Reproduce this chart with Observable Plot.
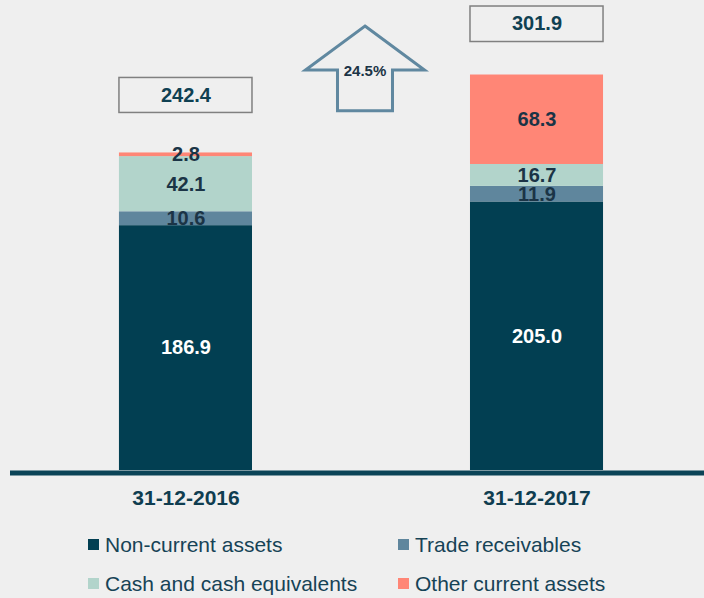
<!DOCTYPE html>
<html>
<head>
<meta charset="utf-8">
<script src="https://cdn.jsdelivr.net/npm/d3@7"></script>
<script src="https://cdn.jsdelivr.net/npm/@observablehq/plot@0.6"></script>
<style>
  html, body { margin: 0; padding: 0; background: #efefef; }
  body { width: 704px; height: 598px; overflow: hidden; font-family: "Liberation Sans", Arial, sans-serif; }
  #legend { display: grid; grid-template-columns: 310px auto; padding-left: 88px; }
  .item { display: flex; align-items: center; height: 39px; font-size: 21px; color: #164356; white-space: nowrap; }
  .sw { width: 11px; height: 11px; margin-right: 6px; flex: none; }
</style>
</head>
<body>
<div id="chart"></div>
<div id="legend"></div>
<script>
// ---- data ----
const years = ["31-12-2016", "31-12-2017"];
const series = ["Non-current assets", "Trade receivables", "Cash and cash equivalents", "Other current assets"];
const nonCurrent = [186.9, 205.0];
const tradeReceivables = [10.6, 11.9];
const cashEquivalents = [42.1, 16.7];
const otherCurrent = [2.8, 68.3];
const totals = [242.4, 301.9];
const growthLabel = ["24.5%"];

// ---- styles ----
const colors = ["#023f52", "#5f869d", "#b2d4cb", "#ff8676"];
const bg = "#efefef";
const darkText = "#1b3446";
const boxStyle = [
  {insetTop: -75, insetBottom: 40, dy: -57.5},
  {insetTop: -68.5, insetBottom: 33, dy: -51}
];

const valuesBySeries = [nonCurrent, tradeReceivables, cashEquivalents, otherCurrent];
const data = [];
years.forEach((yr, i) => series.forEach((s, j) => data.push({year: yr, series: s, value: valuesBySeries[j][i]})));
const totalData = years.map((yr, i) => ({year: yr, total: totals[i]}));

const boxMarks = [];
totalData.forEach((d, i) => {
  const st = boxStyle[i];
  boxMarks.push(Plot.barY([d], {x: "year", y1: "total", y2: "total", insetTop: st.insetTop, insetBottom: st.insetBottom,
    fill: bg, stroke: "#808080", strokeWidth: 1.5}));
  boxMarks.push(Plot.text([d], {x: "year", y: "total", text: v => v.total.toFixed(1), dy: st.dy,
    fontSize: 20, fontWeight: "bold", fill: "#0f4052"}));
});

function arrowMark(index, scales) {
  const sx = scales.x, sy = scales.y;
  const bw = typeof sx.bandwidth === "function" ? sx.bandwidth() : (sx.bandwidth || 0);
  const cx = (sx(years[0]) + sx(years[1])) / 2 + bw / 2 + 4;
  const y0 = sy(totals[1]);
  const apex = y0 - 48.5, base = y0 - 4.5, bottom = y0 + 36.2;
  const hw = 59.5, sw = 27.5;
  const g = d3.create("svg:g");
  g.append("path")
    .attr("d", `M${cx},${apex} L${cx + hw},${base} L${cx + sw},${base} L${cx + sw},${bottom} L${cx - sw},${bottom} L${cx - sw},${base} L${cx - hw},${base} Z`)
    .attr("fill", "none").attr("stroke", "#6088a0").attr("stroke-width", 3).attr("stroke-linejoin", "miter");
  g.append("text")
    .attr("x", cx).attr("y", base + 2).attr("text-anchor", "middle").attr("dominant-baseline", "middle")
    .attr("font-size", 15).attr("font-weight", "bold").attr("fill", darkText)
    .text(growthLabel[0]);
  return g.node();
}

const chart = Plot.plot({
  width: 704,
  height: 525,
  marginTop: 0,
  marginBottom: 55,
  marginLeft: 10,
  marginRight: 0,
  style: {background: bg, fontFamily: "'Liberation Sans', Arial, sans-serif", fontSize: "21px", fontWeight: "bold", color: "#0f3d50"},
  x: {domain: years, paddingInner: 0.621, paddingOuter: 0.299, align: 0.519, round: false, tickSize: 0, tickPadding: 20, label: null},
  y: {domain: [0, 470 / 1.31], axis: null},
  color: {domain: series, range: colors},
  marks: [
    Plot.barY(data, {x: "year", y: "value", fill: "series", order: series}),
    Plot.text(data, Plot.stackY({x: "year", y: "value", z: "series", order: series,
      text: d => d.series === series[0] ? d.value.toFixed(1) : null, fill: "white", fontSize: 20, fontWeight: "bold"})),
    Plot.text(data, Plot.stackY({x: "year", y: "value", z: "series", order: series,
      text: d => d.series !== series[0] ? d.value.toFixed(1) : null, fill: darkText, fontSize: 20, fontWeight: "bold"})),
    Plot.ruleY([0], {stroke: "#0b4457", strokeWidth: 5, dy: 2.5}),
    ...boxMarks,
    arrowMark
  ]
});
document.getElementById("chart").appendChild(chart);

const legend = document.getElementById("legend");
[0, 1, 2, 3].forEach(j => {
  const item = document.createElement("div");
  item.className = "item";
  const sw = document.createElement("span");
  sw.className = "sw";
  sw.style.background = colors[j];
  item.appendChild(sw);
  item.appendChild(document.createTextNode(series[j]));
  legend.appendChild(item);
});
</script>
</body>
</html>
